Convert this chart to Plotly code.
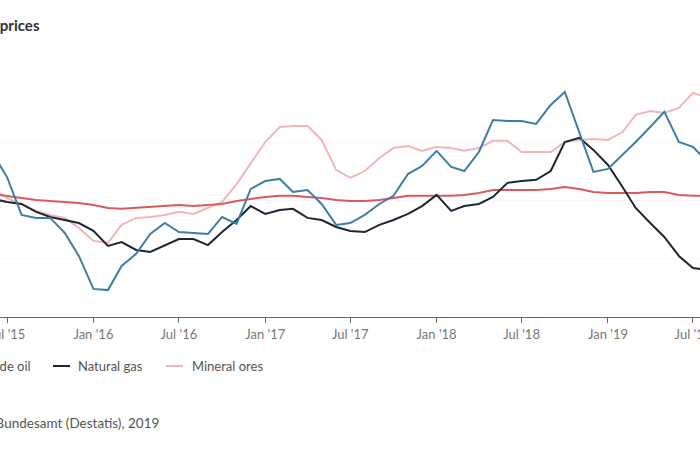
import pandas as pd
import plotly.graph_objects as go

months = pd.date_range("2015-06-01", "2019-08-01", freq="MS")

crude_oil = [120.3, 110.3, 94.0, 92.7, 92.7, 86.2, 76.3, 62.1, 61.6, 72.0, 77.2, 85.8, 90.5,
             86.6, 86.2, 85.8, 93.1, 90.1, 105.2, 108.6, 109.5, 103.9, 104.7, 98.7, 89.7,
             90.5, 94.0, 98.7, 102.2, 111.6, 115.1, 121.6, 114.7, 112.9, 121.1, 134.9, 134.5,
             134.5, 133.2, 141.4, 147.0, 129.7, 112.5, 113.8, 119.8, 125.4, 131.9, 138.4,
             125.4, 123.3, 116.8]
natural_gas = [100.9, 99.6, 98.7, 95.3, 93.1, 91.8, 90.5, 87.1, 80.6, 82.3, 78.9, 78.0, 81.0,
               83.6, 83.6, 81.0, 86.6, 91.8, 97.8, 94.4, 96.1, 96.6, 92.7, 91.8, 88.8,
               87.1, 86.6, 89.7, 91.8, 94.4, 97.8, 102.6, 95.7, 97.8, 98.7, 101.7, 107.8,
               108.6, 109.1, 112.9, 125.4, 127.2, 122.0, 115.5, 106.0, 97.0, 90.5, 84.5,
               76.3, 71.1, 70.3]
total = [103.0, 102.2, 101.3, 100.4, 100.0, 99.6, 99.1, 98.3, 97.0, 96.6, 97.0, 97.4, 97.8,
         98.3, 97.8, 98.3, 98.7, 100.0, 100.9, 101.7, 102.2, 102.2, 101.7, 101.3, 100.4,
         100.0, 100.0, 100.4, 101.3, 102.2, 102.2, 102.2, 102.2, 102.6, 103.4, 104.7, 104.7,
         104.7, 104.7, 105.2, 106.0, 105.2, 103.9, 103.4, 103.4, 103.4, 103.9, 103.9,
         102.6, 102.2, 102.2]
mineral_ores = [105.2, 101.3, 98.3, 95.7, 94.0, 92.7, 88.4, 82.8, 81.9, 89.7, 92.7, 93.1, 94.0,
                95.3, 94.4, 97.0, 99.6, 107.3, 116.4, 125.4, 131.9, 132.3, 132.3, 126.3, 113.4,
                109.9, 112.9, 118.5, 122.8, 123.7, 121.6, 123.3, 122.8, 121.6, 122.8, 125.9,
                125.9, 121.1, 121.1, 121.1, 125.4, 126.3, 126.7, 126.3, 129.7, 137.1, 138.8,
                137.9, 140.1, 146.6, 144.4]

tick_vals = ["2015-07-01", "2016-01-01", "2016-07-01", "2017-01-01", "2017-07-01",
             "2018-01-01", "2018-07-01", "2019-01-01", "2019-07-01"]
tick_text = ["Jul '15", "Jan '16", "Jul '16", "Jan '17", "Jul '17",
             "Jan '18", "Jul '18", "Jan '19", "Jul '19"]

C_OIL = "#3f7ea6"
C_GAS = "#1c2733"
C_TOT = "#da5a5c"
C_ORE = "#f2b6b6"

fig = go.Figure()
fig.add_trace(go.Scatter(x=months, y=mineral_ores, name="Mineral ores", mode="lines",
                         line=dict(color=C_ORE, width=2)))
fig.add_trace(go.Scatter(x=months, y=total, name="Total", mode="lines",
                         line=dict(color=C_TOT, width=2)))
fig.add_trace(go.Scatter(x=months, y=natural_gas, name="Natural gas", mode="lines",
                         line=dict(color=C_GAS, width=2)))
fig.add_trace(go.Scatter(x=months, y=crude_oil, name="Crude oil", mode="lines",
                         line=dict(color=C_OIL, width=2)))

W, H = 700, 450
T, B = 55, 133
PH = H - T - B


def px(x):
    return x / W


def py(y):
    return (H - B - y) / PH


FONT = "Lato, 'Open Sans', sans-serif"

annotations = [
    dict(text="<b>Import prices</b>", x=px(42), y=py(25), xanchor="right", yanchor="middle",
         font=dict(size=15, color="#333333", family=FONT)),
    dict(text="Crude oil", x=px(33), y=py(366), xanchor="right", yanchor="middle",
         font=dict(size=13, color="#555555", family=FONT)),
    dict(text="Natural gas", x=px(76), y=py(366), xanchor="left", yanchor="middle",
         font=dict(size=13, color="#555555", family=FONT)),
    dict(text="Mineral ores", x=px(190), y=py(366), xanchor="left", yanchor="middle",
         font=dict(size=13, color="#555555", family=FONT)),
    dict(text="Source: Statistisches Bundesamt (Destatis), 2019", x=px(161), y=py(423),
         xanchor="right", yanchor="middle",
         font=dict(size=13.5, color="#555555", family=FONT)),
]
for a in annotations:
    a.update(xref="paper", yref="paper", showarrow=False)

shapes = [
    dict(type="line", x0=px(-40), x1=px(-23), y0=py(366), y1=py(366), line=dict(color=C_OIL, width=2)),
    dict(type="line", x0=px(53), x1=px(70), y0=py(366), y1=py(366), line=dict(color=C_GAS, width=2)),
    dict(type="line", x0=px(166), x1=px(183), y0=py(366), y1=py(366), line=dict(color=C_ORE, width=2)),
]
for s in shapes:
    s.update(xref="paper", yref="paper")

fig.update_layout(
    width=W, height=H,
    margin=dict(l=0, r=0, t=T, b=B, autoexpand=False),
    paper_bgcolor="white", plot_bgcolor="white",
    showlegend=False,
    font=dict(family=FONT, color="#777777", size=13),
    annotations=annotations,
    shapes=shapes,
    xaxis=dict(
        range=["2015-06-16", "2019-07-16"],
        tickmode="array", tickvals=tick_vals, ticktext=tick_text,
        showline=True, linecolor="#666666", linewidth=1,
        ticks="outside", ticklen=5, tickcolor="#666666",
        showgrid=False, zeroline=False,
        ticklabeloverflow="allow",
        tickfont=dict(size=13, color="#777777", family=FONT),
    ),
    yaxis=dict(
        range=[50, 162.9],
        tickvals=[75, 100, 125, 150],
        showticklabels=False,
        showgrid=True, gridcolor="#f8f8f8", gridwidth=1,
        zeroline=False, showline=False,
    ),
)

fig.write_html(
    "out.html",
    config={"displayModeBar": False},
    post_script="document.body.style.margin='0';document.body.style.overflow='hidden';",
)
